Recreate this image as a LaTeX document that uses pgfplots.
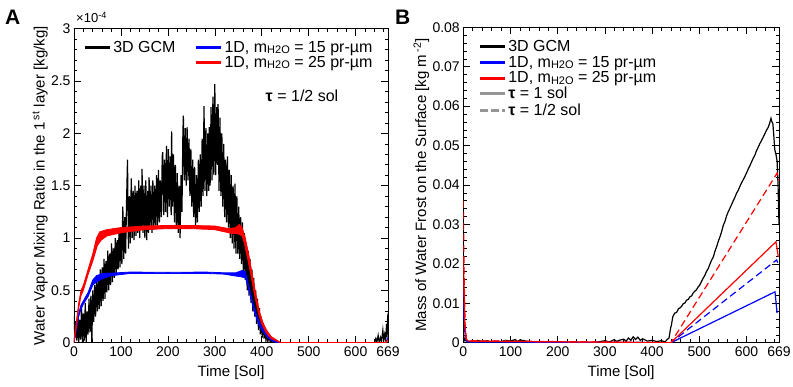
\documentclass[border=0pt]{standalone}
\usepackage{fontspec}
\setmainfont{Liberation Sans}
\usepackage{pgfplots}
\pgfplotsset{compat=1.18}

\definecolor{clrBlue}{RGB}{0,0,255}
\definecolor{clrRed}{RGB}{255,0,0}
\definecolor{clrGray}{RGB}{150,150,150}

\newcommand{\mh}{m\raisebox{-1.2pt}{\fontsize{11}{11}\selectfont H2O}}

\pgfplotsset{
  panel/.style={
    scale only axis, xmin=0, xmax=669,
    xtick={0,100,200,300,400,500,600,669},
    xticklabels={0,100,200,300,400,500,600,669},
    minor xtick={20,40,...,660},
    tick align=inside,
    major tick length=7pt, minor tick length=3.5pt,
    every tick/.style={black, line width=0.6pt},
    axis line style={line width=0.8pt},
    tick label style={font=\fontsize{14}{14}\selectfont},
    label style={font=\fontsize{15}{15}\selectfont},
    xlabel={Time [Sol]},
    xlabel style={at={(axis description cs:0.5,0)}, anchor=center, yshift=-30pt},
    scaled y ticks=false,
    legend image code/.code={\draw[#1, line width=3pt] (0pt,0pt) -- (25pt,0pt);},
    legend style={draw=none, fill=none, font=\fontsize{16}{18}\selectfont,
      inner sep=0pt, row sep=-1pt, cells={anchor=west}},
  }
}

\begin{document}
\begin{tikzpicture}
\useasboundingbox (-74pt,-43.3pt) rectangle (719pt,342.7pt);

% ---------------- panel A ----------------
\begin{axis}[panel, at={(0pt,0pt)}, anchor=south west,
    width=314pt, height=314pt,
    ymin=0, ymax=3,
    ytick={0,0.5,1,1.5,2,2.5,3},
    yticklabels={0,0.5,1,1.5,2,2.5,3},
    minor ytick={0,0.1,...,3},
    ylabel={Water Vapor Mixing Ratio in the 1\,\textsuperscript{st} layer [kg/kg]},
    ylabel style={at={(axis description cs:-0.108,0.5)}, anchor=center},
    legend columns=2,
    legend style={at={(0.029,0.968)}, anchor=north west,
      /tikz/every even column/.append style={column sep=17pt}},
  ]
  % 3D GCM (units of 1e-4 kg/kg)
  \addplot[black, line width=1.2pt, forget plot] coordinates {
    (0,0.25)(2,0.05)(4,0.2)(6,0.02)(8,0.3)(10,0.0)(12,0.22)(14,0.03)(16,0.35)(18,0.0)
    (20,0.28)(22,0.02)(24,0.38)(26,0.0)(28,0.3)(30,0.08)(32,0.42)(34,0.1)(36,0.45)(38,0.0)
    (40,0.5)(42,0.2)(44,0.55)(46,0.25)(48,0.6)(50,0.3)(52,0.62)(54,0.32)(56,0.7)(58,0.35)
    (60,0.72)(62,0.4)(64,0.8)(66,0.42)(68,0.78)(70,0.48)(72,0.88)(74,0.5)(76,0.85)(78,0.55)
    (80,0.95)(82,0.58)(84,0.9)(86,0.62)(88,1.0)(90,0.65)(92,0.98)(94,0.7)(96,1.08)(98,0.72)
    (100,1.1)(102,0.75)(104,1.3)(106,0.8)(108,1.2)(110,0.85)(112,1.35)(114,1.75)(116,0.9)(118,1.4)
    (120,0.95)(122,1.57)(124,1.0)(126,1.45)(128,0.98)(130,1.5)(132,1.02)(134,1.45)(136,1.05)(138,1.55)
    (140,1.0)(142,1.5)(144,1.1)(145,1.66)(147,1.05)(149,1.5)(151,1.0)(153,1.55)(155,0.98)(157,1.45)
    (159,1.05)(160,1.58)(162,1.1)(164,1.5)(166,1.05)(168,1.55)(170,1.08)(172,1.5)(174,1.12)(176,1.6)
    (178,1.1)(180,1.65)(182,1.15)(184,1.55)(186,1.2)(188,1.78)(189,1.82)(191,1.22)(193,1.75)(195,1.25)
    (197,1.88)(199,1.2)(201,1.85)(203,1.3)(205,1.78)(207,1.22)(208,2.02)(210,1.3)(212,1.8)(214,1.15)
    (216,1.7)(218,1.1)(220,1.62)(222,1.05)(224,1.5)(226,1.0)(228,1.6)(230,1.25)(232,2.0)(233,2.17)
    (235,1.55)(237,2.05)(239,1.5)(241,2.06)(243,1.55)(245,1.95)(247,1.4)(249,1.85)(251,1.3)(253,1.75)
    (255,1.2)(257,1.68)(259,1.1)(261,1.6)(263,1.15)(265,1.75)(267,1.25)(269,1.8)(271,1.3)(273,1.95)
    (275,1.4)(277,2.26)(279,1.45)(281,2.05)(283,1.4)(285,2.0)(287,1.45)(288,2.06)(290,1.5)(292,2.25)
    (294,1.55)(296,2.35)(298,1.6)(300,2.47)(302,1.6)(304,2.25)(306,1.7)(307,2.28)(309,1.45)(311,2.15)
    (313,1.4)(315,2.0)(317,1.3)(319,1.9)(321,1.2)(323,1.75)(325,1.15)(327,1.78)(329,1.1)(331,1.65)
    (333,1.0)(335,1.6)(337,0.95)(339,1.5)(341,0.9)(343,1.52)(345,0.85)(347,1.4)(349,0.85)(351,1.3)
    (353,0.8)(355,1.2)(357,0.75)(359,1.15)(361,0.65)(363,1.05)(365,0.6)(367,0.95)(369,0.5)(371,0.88)
    (373,0.45)(375,0.8)(377,0.38)(379,0.7)(381,0.3)(383,0.62)(385,0.25)(387,0.5)(389,0.18)(391,0.42)
    (393,0.12)(395,0.33)(397,0.08)(399,0.25)(401,0.05)(403,0.18)(405,0.04)(407,0.13)(409,0.02)(411,0.09)
    (413,0.01)(415,0.06)(418,0.01)(421,0.03)(425,0.005)(430,0.01)(435,0.0)(440,0.0)
    (640,0.0)(643,0.04)(645,0.0)(648,0.07)(650,0.01)(653,0.05)(655,0.0)(658,0.12)(660,0.02)
    (662,0.08)(664,0.03)(666,0.18)(667,0.05)(668,0.22)(669,0.28)
  };
  % 1D, 15 pr-um (band: upper edge then lower edge)
  \addplot[clrBlue, fill=clrBlue, line width=0.8pt, forget plot] coordinates {
    (0,0.02)(5,0.15)(10,0.28)(15,0.36)(20,0.4)(30,0.48)(40,0.6)(48,0.64)(60,0.66)(80,0.665)
    (120,0.675)(200,0.672)(280,0.675)(320,0.668)(345,0.668)(358,0.69)(365,0.68)(372,0.55)(380,0.4)
    (390,0.25)(400,0.15)(410,0.09)(420,0.04)(430,0.01)(435,0)
    (425,0.01)(415,0.04)(405,0.09)(395,0.16)(385,0.28)(378,0.4)(370,0.55)(365,0.62)(355,0.63)
    (340,0.64)(320,0.655)(280,0.662)(200,0.662)(120,0.662)(80,0.64)(60,0.61)(48,0.58)(40,0.55)
    (30,0.44)(20,0.37)(15,0.32)(10,0.25)(5,0.12)(0,0)
  } -- cycle;
  \addplot[clrBlue, line width=1.2pt, forget plot] coordinates {
    (435,0)(665,0)(669,0.05)
  };
  % 1D, 25 pr-um
  \addplot[clrRed, fill=clrRed, line width=0.8pt, forget plot] coordinates {
    (0,0.03)(5,0.2)(10,0.38)(15,0.5)(20,0.55)(30,0.7)(40,0.85)(48,1.0)(55,1.06)(70,1.08)
    (100,1.1)(150,1.115)(200,1.12)(250,1.12)(300,1.115)(330,1.09)(345,1.1)(352,1.13)(358,1.1)
    (365,1.0)(372,0.85)(380,0.65)(388,0.45)(395,0.3)(402,0.2)(410,0.12)(420,0.06)(430,0.03)(440,0.005)
    (440,0)(430,0.02)(420,0.04)(410,0.09)(400,0.18)(393,0.28)(385,0.45)(378,0.62)(370,0.8)
    (363,0.95)(358,1.02)(350,1.04)(340,1.04)(320,1.06)(300,1.08)(250,1.09)(200,1.09)(150,1.08)
    (100,1.05)(70,1.02)(58,0.98)(50,0.93)(40,0.78)(30,0.65)(20,0.5)(15,0.45)(10,0.33)(5,0.15)(0,0)
  } -- cycle;
  \addplot[clrRed, line width=1.2pt, forget plot] coordinates {
    (440,0)(665,0)(669,0.03)
  };

  \addlegendimage{black}
  \addlegendentry{3D GCM}
  \addlegendimage{clrBlue}
  \addlegendentry{1D, \mh{} = 15 pr-µm}
  \addlegendimage{empty legend}
  \addlegendentry{}
  \addlegendimage{clrRed}
  \addlegendentry{1D, \mh{} = 25 pr-µm}
\end{axis}

% ---------------- panel B ----------------
\begin{axis}[panel, at={(389.3pt,0pt)}, anchor=south west,
    width=315.7pt, height=315.4pt,
    ymin=0, ymax=0.08,
    ytick={0,0.01,0.02,0.03,0.04,0.05,0.06,0.07,0.08},
    yticklabels={0,0.01,0.02,0.03,0.04,0.05,0.06,0.07,0.08},
    minor ytick={0,0.002,...,0.08},
    ylabel={Mass of Water Frost on the Surface [kg m\,\textsuperscript{-2}]},
    ylabel style={at={(axis description cs:-0.133,0.5)}, anchor=center},
    legend style={at={(0.047,0.965)}, anchor=north west},
  ]
  % 3D GCM
  \addplot[black, line width=1.2pt, forget plot] coordinates {
    (0,0.002)(3,0.0005)(10,0.0004)(20,0.0002)(30,0.0006)(40,0.0003)(50,0.0005)(60,0.0002)
    (70,0.0004)(80,0.0003)(90,0.0006)(100,0.0004)(110,0.0008)(115,0.0003)(120,0.0007)(130,0.0005)
    (140,0.0002)(150,0)(280,0)(290,0.0003)(300,0.0005)(310,0.0002)(320,0.0008)(325,0.0003)
    (330,0.0006)(340,0.0009)(345,0.0004)(350,0.0012)(355,0.0006)(360,0.0015)(365,0.0008)
    (370,0.0014)(375,0.0006)(380,0.001)(390,0.0004)(400,0.0006)(410,0.0003)(420,0.0005)
    (428,0.0002)(431,0.0007)(436,0.0012)(439,0.0035)(441,0.0045)(444,0.0066)(448,0.0075)
    (452,0.0077)(456,0.0086)(460,0.0089)(463,0.0093)(466,0.0099)(470,0.0101)(473,0.0108)
    (477,0.011)(480,0.0116)(484,0.0119)(487,0.0126)(491,0.0131)(494,0.0134)(498,0.0142)
    (501,0.0146)(505,0.0156)(508,0.0163)(512,0.0171)(515,0.018)(519,0.0188)(522,0.0197)
    (526,0.0209)(530,0.0218)(533,0.0231)(537,0.0244)(540,0.0256)(544,0.0269)(547,0.028)
    (551,0.0298)(554,0.0306)(558,0.0322)(561,0.0331)(565,0.0341)(568,0.0349)(572,0.036)
    (575,0.0367)(579,0.0379)(582,0.0385)(586,0.0396)(589,0.0404)(593,0.0413)(596,0.042)
    (600,0.043)(604,0.0441)(607,0.0448)(611,0.0459)(614,0.0467)(618,0.0476)(621,0.0486)
    (625,0.0496)(628,0.0504)(632,0.0513)(635,0.052)(639,0.053)(643,0.054)(646,0.0546)
    (649,0.0556)(652,0.0569)(654,0.056)(656,0.0556)(658,0.0525)(660,0.049)(663,0.0475)
    (665,0.046)(667,0.04)(669,0.03)
  };
  % 1D 15, tau = 1 sol
  \addplot[clrBlue, line width=1.2pt, forget plot] coordinates {
    (0,0.01)(3,0.003)(6,0.0005)(10,0.0002)(440,0)(660.5,0.0129)(665,0.0075)
  };
  % 1D 15, tau = 1/2 sol
  \addplot[clrBlue, line width=1.2pt, dash pattern=on 7pt off 4pt, forget plot] coordinates {
    (0,0.016)(2,0.006)(5,0.001)(10,0.0003)(440,0)(664,0.021)(669,0.0195)
  };
  % 1D 25, tau = 1 sol
  \addplot[clrRed, line width=1.2pt, forget plot] coordinates {
    (0,0.022)(3,0.005)(6,0.001)(10,0.0004)(440,0)(662.6,0.0256)(667.5,0.0218)
  };
  % 1D 25, tau = 1/2 sol
  \addplot[clrRed, line width=1.2pt, dash pattern=on 7pt off 4pt, forget plot] coordinates {
    (0,0.036)(2,0.015)(4,0.004)(6,0.001)(10,0.0005)(440,0)(665,0.043)(669,0.041)
  };

  \addlegendimage{black}
  \addlegendentry{3D GCM}
  \addlegendimage{clrBlue}
  \addlegendentry{1D, \mh{} = 15 pr-µm}
  \addlegendimage{clrRed}
  \addlegendentry{1D, \mh{} = 25 pr-µm}
  \addlegendimage{clrGray}
  \addlegendentry{\textbf{τ} = 1 sol}
  \addlegendimage{clrGray, dash pattern=on 8pt off 3pt}
  \addlegendentry{\textbf{τ} = 1/2 sol}
\end{axis}

% panel letters and annotations
\node[anchor=north west, inner sep=0pt, font=\fontsize{21}{21}\selectfont\bfseries] at (-69pt,332.7pt) {A};
\node[anchor=north west, inner sep=0pt, font=\fontsize{21}{21}\selectfont\bfseries] at (321pt,332.7pt) {B};
\node[anchor=base west, inner sep=0pt, font=\fontsize{13}{13}\selectfont] at (2pt,320pt) {×10\textsuperscript{-4}};
\node[anchor=center, inner sep=0pt, font=\fontsize{16}{16}\selectfont] at (228pt,246.7pt) {\textbf{τ} = 1/2 sol};
\end{tikzpicture}
\end{document}
